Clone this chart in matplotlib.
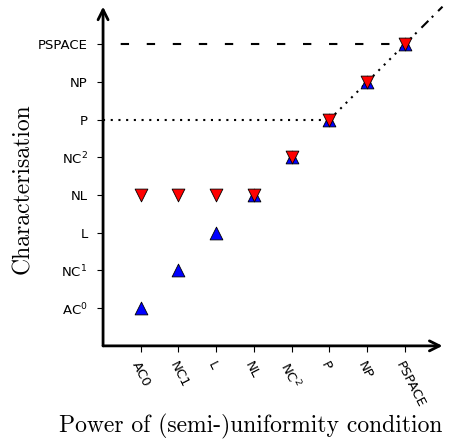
import numpy as np
import matplotlib
matplotlib.use("Agg")
import matplotlib.pyplot as plt

# -------------------------
# Data
# -------------------------
y_labels = ["AC$^0$", "NC$^1$", "L", "NL", "NC$^2$", "P", "NP", "PSPACE"]
x_labels = ["AC0", "NC1", "L", "NL", "NC$^2$", "P", "NP", "PSPACE"]

power = [1, 2, 3, 4, 5, 6, 7, 8]
upper_char = [1, 2, 3, 4, 5, 6, 7, 8]   # blue up triangles
lower_char = [4, 4, 4, 4, 5, 6, 7, 8]   # red down triangles

p_level = 6
pspace_level = 8
axis_max = 9

# -------------------------
# Figure
# -------------------------
fig = plt.figure(figsize=(4.52, 4.44), dpi=100)
ax = fig.add_axes([0.228, 0.221, 0.751, 0.764])
ax.set_xlim(0, axis_max)
ax.set_ylim(0, axis_max)

for s in ax.spines.values():
    s.set_visible(False)

# axes with arrows
arrow = dict(arrowstyle="->", lw=2, color="black",
             shrinkA=0, shrinkB=0, mutation_scale=18)
ax.annotate("", xy=(1.0, 0), xytext=(0, 0), xycoords="axes fraction",
            arrowprops=arrow, annotation_clip=False)
ax.annotate("", xy=(0, 1.0), xytext=(0, 0), xycoords="axes fraction",
            arrowprops=arrow, annotation_clip=False)

# reference lines
ax.plot([0, pspace_level], [pspace_level, pspace_level], color="black",
        ls=(4, (4, 8.5)), lw=1.5, zorder=1)
ax.plot([0, p_level], [p_level, p_level], color="black",
        ls=(0, (1, 2.7)), lw=1.5, zorder=1)
ax.plot([p_level, pspace_level], [p_level, pspace_level], color="black",
        ls=(0, (1, 2.7)), lw=1.5, zorder=1)
ax.plot([pspace_level, axis_max], [pspace_level, axis_max], color="black",
        ls=(0, (4.7, 2.3, 1, 3.3)), lw=1.5, zorder=1, clip_on=False)

# markers
ax.scatter(power, upper_char, marker="^", s=85, color="blue",
           edgecolor="black", linewidth=0.6, zorder=3)
ax.scatter(power, lower_char, marker="v", s=85, color="red",
           edgecolor="black", linewidth=0.6, zorder=4)

ax.set_xticks(power)
ax.set_xticklabels(x_labels, rotation=-63, ha="left", va="top",
                   rotation_mode="anchor", fontsize=9.5)
ax.set_yticks(power)
ax.set_yticklabels(y_labels, fontsize=9.5)
ax.tick_params(axis="y", length=4, width=0.8, pad=7)
ax.tick_params(axis="x", length=4, width=0.8, pad=6)

ax.set_xlabel("Power of (semi-)uniformity condition", family="cmr10",
              fontsize=17)
ax.xaxis.set_label_coords(0.435, -0.2)
ax.set_ylabel("Characterisation", family="cmr10", fontsize=17)
ax.yaxis.set_label_coords(-0.203, 0.463)

plt.savefig("out.png", dpi=100)
